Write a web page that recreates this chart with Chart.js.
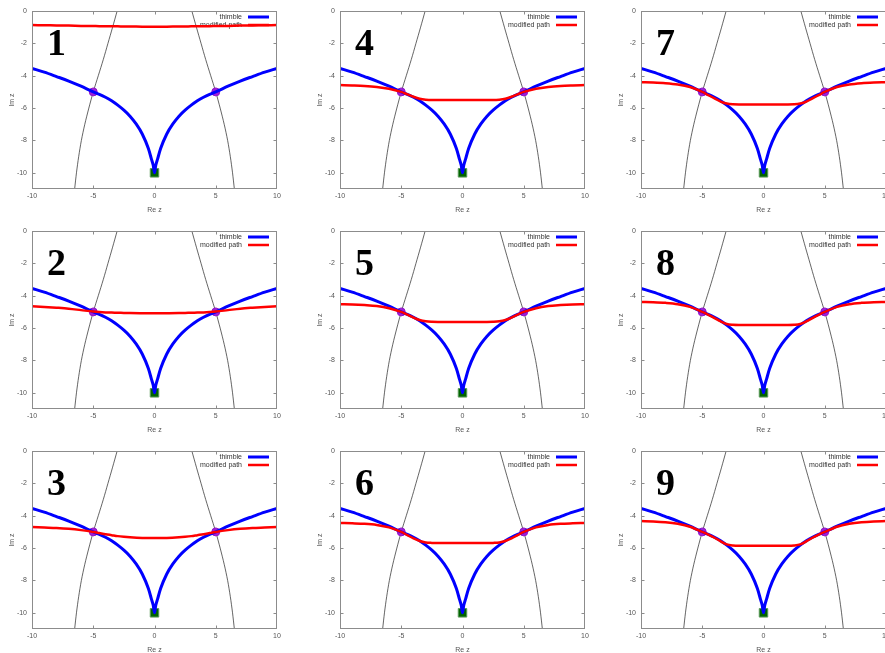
<!DOCTYPE html>
<html>
<head>
<meta charset="utf-8">
<script src="https://cdn.jsdelivr.net/npm/chart.js@4/dist/chart.umd.min.js"></script>
<style>
  html, body { margin: 0; padding: 0; background: #fff; }
  body { width: 885px; height: 653px; overflow: hidden; position: relative; }
  canvas { position: absolute; }
</style>
</head>
<body>
<script>
// tick labels
const xTicks = [-10, -5, 0, 5, 10];
const yTicks = [0, -2, -4, -6, -8, -10];

// thimble (blue)
const thimbleX = [-10, -9, -8, -7, -6, -5, -4.5, -4, -3.5, -3, -2.5, -2, -1.5, -1, -0.5, -0.25, -0.1, 0,
                  0.1, 0.25, 0.5, 1, 1.5, 2, 2.5, 3, 3.5, 4, 4.5, 5, 6, 7, 8, 9, 10];
const thimbleY = [-3.55, -3.78, -4.05, -4.33, -4.65, -5.0, -5.15, -5.33, -5.55, -5.82, -6.13, -6.5, -6.98, -7.6, -8.5, -9.15, -9.55, -10,
                  -9.55, -9.15, -8.5, -7.6, -6.98, -6.5, -6.13, -5.82, -5.55, -5.33, -5.15, -5.0, -4.65, -4.33, -4.05, -3.78, -3.55];

// thin black curves
const curveY = [0, -1, -2, -3, -4, -5, -6, -7, -8, -9, -10, -11];
const leftCurveX = [-3.05, -3.42, -3.8, -4.18, -4.59, -5.0, -5.36, -5.69, -5.97, -6.19, -6.37, -6.52];
const rightCurveX = [3.05, 3.42, 3.8, 4.18, 4.59, 5.0, 5.36, 5.69, 5.97, 6.19, 6.37, 6.52];

// saddle points and critical point
const saddleX = [-5, 5];
const saddleY = [-5, -5];
const critX = [0];
const critY = [-10];

// modified paths (red), one per panel
const pathX = [-10, -9, -8, -7, -6, -5, -4.5, -4, -3.5, -3, -2.5, -2, -1, 0, 1, 2, 2.5, 3, 3.5, 4, 4.5, 5, 6, 7, 8, 9, 10];
const path1 = [-0.87, -0.88, -0.89, -0.9, -0.92, -0.93, -0.94, -0.94, -0.95, -0.95, -0.96, -0.96, -0.97, -0.97,
               -0.97, -0.96, -0.96, -0.95, -0.95, -0.94, -0.94, -0.93, -0.92, -0.9, -0.89, -0.88, -0.87];
const path2 = [-4.65, -4.69, -4.74, -4.8, -4.89, -4.98, -5.01, -5.03, -5.04, -5.05, -5.06, -5.07, -5.08, -5.08,
               -5.08, -5.07, -5.06, -5.05, -5.04, -5.03, -5.01, -4.98, -4.89, -4.8, -4.74, -4.69, -4.65];
const path3 = [-4.7, -4.73, -4.76, -4.81, -4.89, -5.0, -5.07, -5.14, -5.2, -5.26, -5.3, -5.33, -5.37, -5.38,
               -5.37, -5.33, -5.3, -5.26, -5.2, -5.14, -5.07, -5.0, -4.89, -4.81, -4.76, -4.73, -4.7];
const path4 = [-4.58, -4.6, -4.63, -4.69, -4.8, -5.0, -5.15, -5.3, -5.42, -5.48, -5.5, -5.5, -5.5, -5.5,
               -5.5, -5.5, -5.5, -5.48, -5.42, -5.3, -5.15, -5.0, -4.8, -4.69, -4.63, -4.6, -4.58];
const path5 = [-4.52, -4.54, -4.58, -4.64, -4.77, -5.0, -5.17, -5.35, -5.5, -5.58, -5.61, -5.62, -5.62, -5.62,
               -5.62, -5.62, -5.61, -5.58, -5.5, -5.35, -5.17, -5.0, -4.77, -4.64, -4.58, -4.54, -4.52];
const path6 = [-4.45, -4.47, -4.5, -4.57, -4.72, -5.0, -5.2, -5.4, -5.56, -5.65, -5.68, -5.69, -5.69, -5.69,
               -5.69, -5.69, -5.68, -5.65, -5.56, -5.4, -5.2, -5.0, -4.72, -4.57, -4.5, -4.47, -4.45];
const path7 = [-4.4, -4.42, -4.46, -4.54, -4.7, -5.0, -5.2, -5.4, -5.6, -5.72, -5.77, -5.78, -5.78, -5.78,
               -5.78, -5.78, -5.77, -5.72, -5.6, -5.4, -5.2, -5.0, -4.7, -4.54, -4.46, -4.42, -4.4];
const path8 = [-4.38, -4.4, -4.44, -4.52, -4.69, -5.0, -5.18, -5.38, -5.59, -5.75, -5.8, -5.81, -5.81, -5.81,
               -5.81, -5.81, -5.8, -5.75, -5.59, -5.38, -5.18, -5.0, -4.69, -4.52, -4.44, -4.4, -4.38];
const path9 = [-4.33, -4.35, -4.4, -4.5, -4.68, -5.0, -5.17, -5.36, -5.58, -5.77, -5.84, -5.86, -5.86, -5.86,
               -5.86, -5.86, -5.84, -5.77, -5.58, -5.36, -5.17, -5.0, -4.68, -4.5, -4.4, -4.35, -4.33];

const panelNames = ['1', '2', '3', '4', '5', '6', '7', '8', '9'];
const panelPaths = [path1, path2, path3, path4, path5, path6, path7, path8, path9];

const pts = (xs, ys) => xs.map((v, i) => ({x: v, y: ys[i]}));

const frameColor = '#8c8c8c';

const framePlugin = {
    id: 'frame',
    beforeDatasetsDraw(chart, args, opts) {
        const ctx = chart.ctx;
        const a = chart.chartArea;
        ctx.save();
        // panel number
        ctx.fillStyle = '#000';
        ctx.font = 'bold 38px "Liberation Serif"';
        ctx.textAlign = 'left';
        ctx.textBaseline = 'alphabetic';
        ctx.fillText(opts.name, a.left + 15, a.top + 44);
        // key, top right
        ctx.font = '7px "Liberation Sans"';
        ctx.textAlign = 'right';
        ctx.textBaseline = 'middle';
        chart.data.datasets.filter(d => d.label).forEach((d, i) => {
            const ly = a.top + 6 + i * 8;
            ctx.fillStyle = '#333';
            ctx.fillText(d.label, a.right - 35, ly);
            ctx.strokeStyle = d.borderColor;
            ctx.lineWidth = d.borderWidth;
            ctx.beginPath();
            ctx.moveTo(a.right - 29, ly);
            ctx.lineTo(a.right - 8, ly);
            ctx.stroke();
        });
        ctx.restore();
    },
    afterDatasetsDraw(chart) {
        const ctx = chart.ctx;
        const a = chart.chartArea;
        const sx = chart.scales.x, sy = chart.scales.y;
        ctx.save();
        ctx.strokeStyle = frameColor;
        ctx.lineWidth = 1;
        const L = Math.round(a.left) + 0.5, R = Math.round(a.right) - 0.5;
        const T = Math.round(a.top) + 0.5, B = Math.round(a.bottom) - 0.5;
        ctx.strokeRect(L, T, R - L, B - T);
        ctx.beginPath();
        xTicks.forEach(v => {
            if (v <= sx.min || v >= sx.max) return;
            const px = Math.round(sx.getPixelForValue(v)) + 0.5;
            ctx.moveTo(px, B); ctx.lineTo(px, B - 3);
            ctx.moveTo(px, T); ctx.lineTo(px, T + 3);
        });
        yTicks.forEach(v => {
            if (v <= sy.min || v >= sy.max) return;
            const py = Math.round(sy.getPixelForValue(v)) + 0.5;
            ctx.moveTo(L, py); ctx.lineTo(L + 3, py);
            ctx.moveTo(R, py); ctx.lineTo(R - 3, py);
        });
        ctx.stroke();
        ctx.restore();
    }
};

function makePanel(idx) {
    const col = Math.floor(idx / 3), row = idx % 3;
    const canvas = document.createElement('canvas');
    canvas.width = 300;
    canvas.height = 218;
    canvas.style.left = [0, 308, 609][col] + 'px';
    canvas.style.top = (row * 220) + 'px';
    document.body.appendChild(canvas);

    const tickFont = {family: '"Liberation Sans"', size: 7};

    new Chart(canvas.getContext('2d'), {
        type: 'scatter',
        data: {
            datasets: [
                {
                    label: 'thimble',
                    data: pts(thimbleX, thimbleY),
                    showLine: true,
                    borderColor: '#0000ff',
                    borderWidth: 3,
                    pointRadius: 0,
                    cubicInterpolationMode: 'monotone',
                    order: 2
                },
                {
                    label: 'modified path',
                    data: pts(pathX, panelPaths[idx]),
                    showLine: true,
                    borderColor: '#ff0000',
                    borderWidth: 2.5,
                    pointRadius: 0,
                    cubicInterpolationMode: 'monotone',
                    order: 1
                },
                {
                    data: pts(leftCurveX, curveY),
                    showLine: true,
                    borderColor: '#222',
                    borderWidth: 0.7,
                    pointRadius: 0,
                    tension: 0.3,
                    order: 5
                },
                {
                    data: pts(rightCurveX, curveY),
                    showLine: true,
                    borderColor: '#222',
                    borderWidth: 0.7,
                    pointRadius: 0,
                    tension: 0.3,
                    order: 5
                },
                {
                    data: pts(saddleX, saddleY),
                    pointStyle: 'circle',
                    pointRadius: 4,
                    backgroundColor: '#a020d8',
                    borderColor: '#9018c8',
                    borderWidth: 1,
                    order: 4
                },
                {
                    data: pts(critX, critY),
                    pointStyle: 'rect',
                    pointRadius: 6,
                    backgroundColor: '#006400',
                    borderColor: '#5a9a5a',
                    borderWidth: 1,
                    order: 3
                }
            ]
        },
        options: {
            responsive: false,
            animation: false,
            devicePixelRatio: 1,
            layout: {padding: {top: 11, right: 23, left: 0, bottom: 0}},
            plugins: {
                legend: {display: false},
                tooltip: {enabled: false},
                frame: {name: panelNames[idx]}
            },
            scales: {
                x: {
                    type: 'linear',
                    min: -10,
                    max: 10,
                    grid: {display: false, drawTicks: false},
                    border: {display: false},
                    ticks: {font: tickFont, color: '#555', padding: 3, maxRotation: 0},
                    afterBuildTicks: s => { s.ticks = xTicks.map(v => ({value: v})); },
                    afterFit: s => { s.height = 29; },
                    title: {display: true, text: 'Re z', font: tickFont, color: '#555', padding: {top: 2, bottom: 4}}
                },
                y: {
                    type: 'linear',
                    min: -11,
                    max: 0,
                    grid: {display: false, drawTicks: false},
                    border: {display: false},
                    ticks: {font: tickFont, color: '#555', padding: 5},
                    afterBuildTicks: s => { s.ticks = yTicks.map(v => ({value: v})); },
                    afterFit: s => { s.width = 32; },
                    title: {display: true, text: 'Im z', font: tickFont, color: '#555', padding: {top: 8, bottom: 0}}
                }
            }
        },
        plugins: [framePlugin]
    });
}

for (let i = 0; i < 9; i++) {
    makePanel(i);
}
</script>
</body>
</html>
